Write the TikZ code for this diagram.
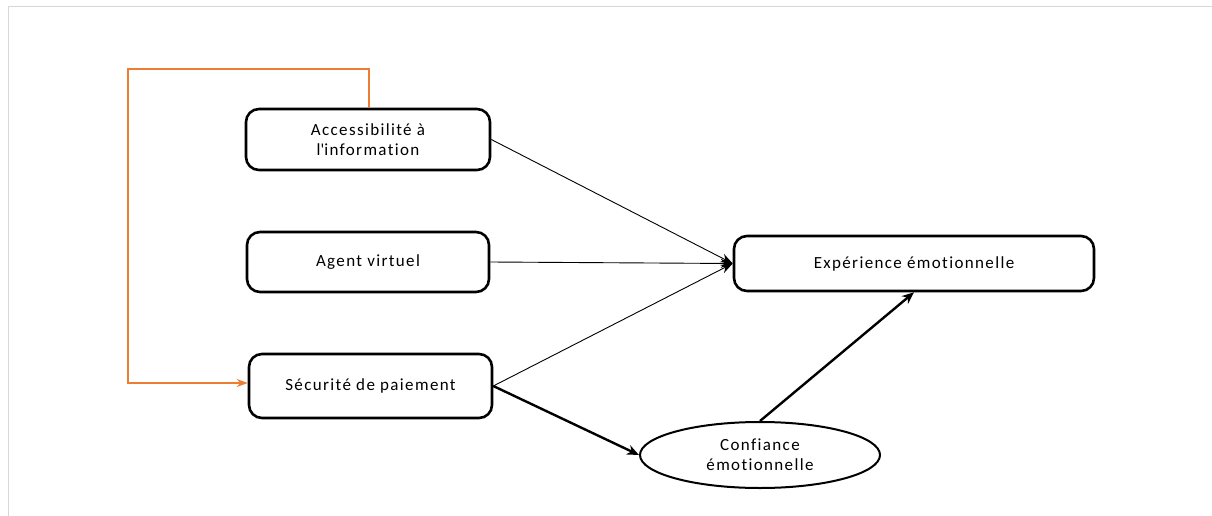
\documentclass[tikz,border=0pt]{standalone}
\usepackage{fontspec}
\setmainfont{Carlito}[LetterSpace=8,Ligatures={NoCommon}]
\usetikzlibrary{arrows.meta,shapes.geometric}
\definecolor{frame}{RGB}{215,215,215}
\definecolor{orng}{RGB}{237,125,49}
\begin{document}
\begin{tikzpicture}[x=1pt,y=-1pt,
  box/.style={draw=black,line width=2.6pt,rounded corners=13pt,fill=white,align=center,font=\fontsize{17}{20}\selectfont,inner sep=0pt},
  oval/.style={draw=black,line width=2pt,ellipse,fill=white,align=center,font=\fontsize{17}{20}\selectfont,inner sep=0pt,minimum width=240pt,minimum height=66pt},
  thin/.style={line width=0.9pt,-{Stealth[length=12pt,width=9pt]}},
  thick/.style={line width=2.4pt,-{Stealth[length=12pt,width=10pt]}},
  fb/.style={draw=orng,line width=1.8pt,-{Stealth[length=11pt,width=8pt]}}]
\useasboundingbox (0,0) rectangle (1212,516);
\draw[frame,line width=1pt] (8,516) -- (8,7) -- (1212,7);
\node[box,minimum width=244pt,minimum height=61pt] (acc) at (368,139.5) {Accessibilité à\\l\textquotesingle information};
\node[box,minimum width=242pt,minimum height=60pt] (agent) at (368,262) {Agent virtuel};
\node[box,minimum width=243pt,minimum height=64pt] (secu) at (370.5,386) {Sécurité de paiement};
\node[box,minimum width=360pt,minimum height=55pt] (exp) at (914,263.5) {Expérience émotionnelle};
\node[oval] (conf) at (760,455) {Confiance\\émotionnelle};
\coordinate (c1) at (369,69);
\coordinate (c2) at (128,69);
\coordinate (c3) at (128,383);
\draw[fb] (acc.north -| c1) -- (c1) -- (c2) -- (c3) -- (c3 -| secu.west);
\draw[thin] (acc.east) -- (exp.west);
\draw[thin] (agent.east) -- (exp.west);
\draw[thin] (secu.east) -- (exp.west);
\draw[thick] (secu.east) -- (conf.west);
\draw[thick] (conf.north) -- (exp.south);
\end{tikzpicture}
\end{document}
